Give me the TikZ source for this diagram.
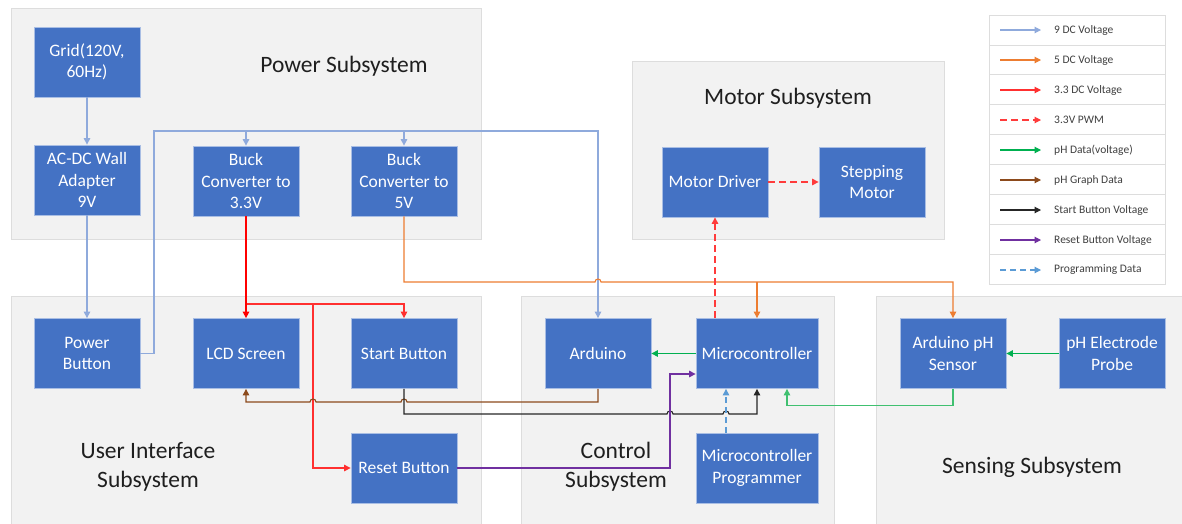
\documentclass[tikz,border=0pt]{standalone}
\usepackage{fontspec}
\setmainfont{Carlito}
\usetikzlibrary{arrows.meta,calc}
\definecolor{boxblue}{HTML}{4472C4}
\definecolor{boxedge}{HTML}{A9BEE4}
\definecolor{panelfill}{HTML}{F2F2F2}
\definecolor{paneledge}{HTML}{DDDDDD}
\definecolor{c9}{HTML}{8FAADC}
\definecolor{c5}{HTML}{ED7D31}
\definecolor{c3}{HTML}{FF0000}
\definecolor{c3l}{HTML}{FF3030}
\definecolor{cpwm}{HTML}{FF3B3B}
\definecolor{cph}{HTML}{00B050}
\definecolor{cphl}{HTML}{40C070}
\definecolor{cphg}{HTML}{8C4A1C}
\definecolor{csb}{HTML}{262626}
\definecolor{crb}{HTML}{7030A0}
\definecolor{cprg}{HTML}{5B9BD5}
\definecolor{labtext}{HTML}{1F1F1F}
\definecolor{legtextc}{HTML}{404040}
\begin{document}
\begin{tikzpicture}[x=1pt,y=-1pt,
  panel/.style={fill=panelfill,draw=paneledge,line width=1pt},
  blk/.style={fill=boxblue,draw=boxedge,line width=0.8pt,text=white,align=center,
    minimum width=106pt,minimum height=70pt,inner sep=0pt,
    font=\fontsize{17.5}{21.5}\selectfont},
  wblk/.style={blk,minimum width=122pt},
  plabel/.style={text=labtext,align=center,font=\fontsize{23.5}{29}\selectfont},
  legtext/.style={text=legtextc,anchor=west,inner sep=0pt,font=\fontsize{11.5}{13}\selectfont},
  legbox/.style={draw=paneledge,line width=0.8pt,fill=white},
  tip/.style={-{Triangle[length=6.5pt,width=6.5pt]}},
  conn/.style={line width=1.1pt,line join=miter},
  v9/.style={conn,c9,tip},
  v5/.style={conn,c5,tip},
  v3/.style={conn,c3,line width=1.5pt,tip},
  v3b/.style={conn,c3l,tip},
  pwm/.style={conn,cpwm,dash pattern=on 7pt off 4pt,tip},
  ph/.style={conn,cph,tip},
  phb/.style={conn,cphl,tip},
  phg/.style={conn,cphg,tip},
  sbv/.style={conn,csb,tip},
  rbv/.style={conn,crb,tip},
  prg/.style={conn,cprg,dash pattern=on 6pt off 4pt,tip}
]
\useasboundingbox (0,0) rectangle (1182,523);

% panels
\draw[panel] (11,8) rectangle (481,239);
\draw[panel] (632,61) rectangle (944,239);
\draw[panel] (11,296) rectangle (481,526);
\draw[panel] (521,296) rectangle (834,526);
\draw[panel] (876,296) rectangle (1186,526);

\node[plabel] (lpower) at (344,66) {Power Subsystem};
\node[plabel] (lmotor) at (788,98) {Motor Subsystem};
\node[plabel] (lui) at (148,467) {User Interface\\Subsystem};
\node[plabel] (lctrl) at (616,467) {Control\\Subsystem};
\node[plabel] (lsens) at (1032,467) {Sensing Subsystem};

% blocks
\node[blk] (grid) at (87,62) {Grid(120V,\\60Hz)};
\node[blk] (acdc) at (87,180) {AC-DC Wall\\Adapter\\9V};
\node[blk] (buck3) at (246,181) {Buck\\Converter to\\3.3V};
\node[blk] (buck5) at (404,181) {Buck\\Converter to\\5V};
\node[blk] (pbtn) at (87,353.5) {Power\\Button};
\node[blk] (lcd) at (246,353.5) {LCD Screen};
\node[blk] (start) at (404,353.5) {Start Button};
\node[blk] (reset) at (404,468) {Reset Button};
\node[blk] (ard) at (598,353.5) {Arduino};
\node[wblk] (mcu) at (757,353.5) {Microcontroller};
\node[wblk] (prog) at (757,468) {Microcontroller\\Programmer};
\node[blk] (mdrv) at (715,182) {Motor Driver};
\node[blk] (step) at (872,182) {Stepping\\Motor};
\node[blk] (phs) at (953,353.5) {Arduino pH\\Sensor};
\node[blk] (probe) at (1112,353.5) {pH Electrode\\Probe};

% bus coordinates
\coordinate (bus9) at (154,131);
\coordinate (bus5) at (0,282);
\coordinate (bus3) at (0,304);
\coordinate (rx) at (313,304);
\coordinate (busb) at (0,402);
\coordinate (busk) at (0,414);
\coordinate (busg) at (0,405.5);
\coordinate (purx) at (670,0);
\coordinate (mcuin) at ($(mcu.west)+(0,20.5)$);

% 9V
\draw[v9] (grid) -- (acdc);
\draw[v9] (acdc) -- (pbtn);
\draw[v9] (pbtn.east) -| (bus9) -| (ard.north);
\draw[v9] (buck3.north |- bus9) -- (buck3.north);
\draw[v9] (buck5.north |- bus9) -- (buck5.north);

% 5V
\draw[v5] (buck5.south) -- (buck5.south |- bus5)
  -- ($(ard.north |- bus5)+(-3,0)$) arc[start angle=180,end angle=0,radius=3pt]
  -| (phs.north);
\draw[v5] (mcu.north |- bus5) -- (mcu.north);

% 3.3V
\draw[v3b] (buck3.south |- bus3) -| (start.north);
\draw[v3b] (rx) |- (reset.west);
\draw[v3] (buck3.south) -- (lcd.north);

% PWM
\draw[pwm] (mdrv.south |- mcu.north) -- (mdrv.south);
\draw[pwm] (mdrv) -- (step);

% pH data
\draw[ph] (mcu) -- (ard);
\draw[ph] (probe) -- (phs);
\draw[phb] (phs.south) |- ($(mcu.south |- busg)+(30,0)$) -- ($(mcu.south)+(30,0)$);

% pH graph data
\draw[phg] (ard.south) |- ($(start.south |- busb)+(3,0)$)
  arc[start angle=0,end angle=180,radius=3pt]
  -- ($(rx |- busb)+(3,0)$) arc[start angle=0,end angle=180,radius=3pt]
  -| (lcd.south);

% start button voltage
\draw[sbv] (start.south) |- ($(purx |- busk)+(-3,0)$)
  arc[start angle=180,end angle=0,radius=3pt]
  -- ($(prog.north |- busk)+(-34,0)$) arc[start angle=180,end angle=0,radius=3pt]
  -| (mcu.south);

% reset button voltage
\draw[rbv] (reset.east) -| (purx |- mcuin) -- (mcuin);

% programming data
\draw[prg] ($(prog.north)+(-31,0)$) -- ($(mcu.south)+(-31,0)$);

% legend
\foreach \i in {0,...,8} {
  \draw[legbox] (989,15+29.9*\i) rectangle (1165,15+29.9*\i+29.9);
}
\coordinate (la1) at (1000,30);
\coordinate (la2) at (1000,60);
\coordinate (la3) at (1000,90);
\coordinate (la4) at (1000,120);
\coordinate (la5) at (1000,150);
\coordinate (la6) at (1000,180);
\coordinate (la7) at (1000,210);
\coordinate (la8) at (1000,240);
\coordinate (la9) at (1000,270);
\draw[v9] (la1) -- ++(41,0);
\draw[v5] (la2) -- ++(41,0);
\draw[v3b] (la3) -- ++(41,0);
\draw[pwm] (la4) -- ++(41,0);
\draw[ph] (la5) -- ++(41,0);
\draw[phg] (la6) -- ++(41,0);
\draw[sbv] (la7) -- ++(41,0);
\draw[rbv] (la8) -- ++(41,0);
\draw[prg] (la9) -- ++(41,0);
\node[legtext] (lt1) at (1054,30) {9 DC Voltage};
\node[legtext] (lt2) at (1054,60) {5 DC Voltage};
\node[legtext] (lt3) at (1054,90) {3.3 DC Voltage};
\node[legtext] (lt4) at (1054,120) {3.3V PWM};
\node[legtext] (lt5) at (1054,150) {pH Data(voltage)};
\node[legtext] (lt6) at (1054,180) {pH Graph Data};
\node[legtext] (lt7) at (1054,210) {Start Button Voltage};
\node[legtext] (lt8) at (1054,240) {Reset Button Voltage};
\node[legtext] (lt9) at (1054,270) {Programming Data};
\end{tikzpicture}
\end{document}
